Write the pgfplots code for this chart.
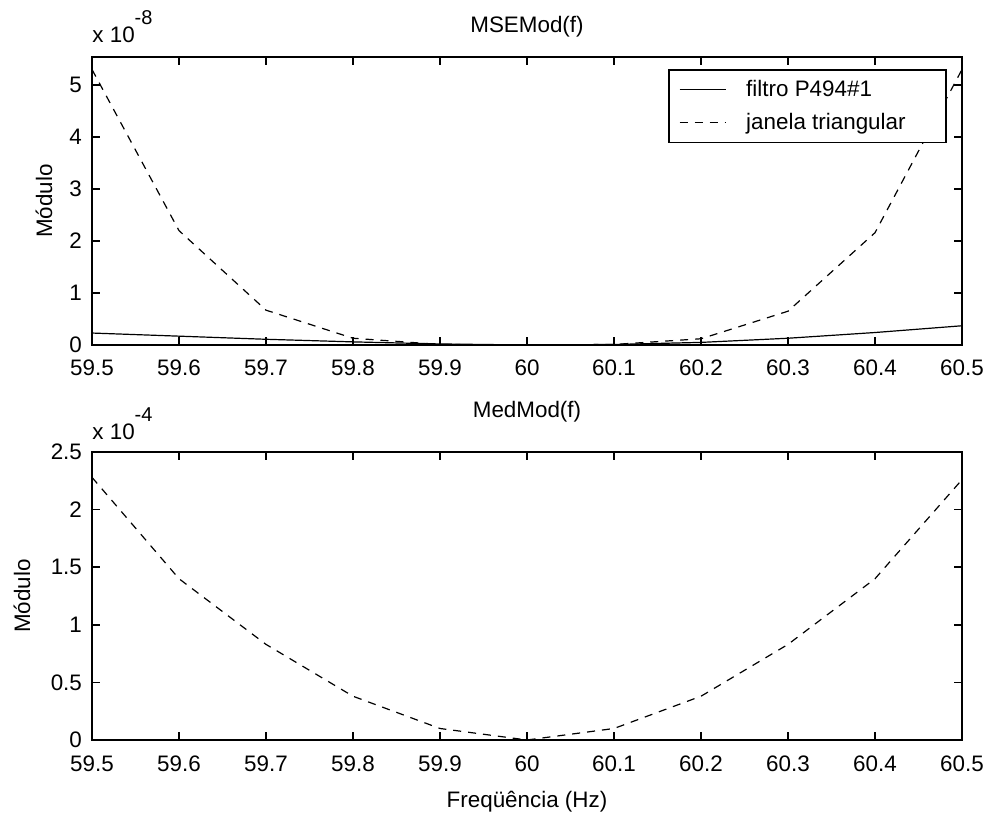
\documentclass[border=0pt]{standalone}
\usepackage{pgfplots}
\pgfplotsset{compat=1.18}
\usepackage{fontspec}
\setmainfont{Liberation Sans}
\newcommand{\mf}{\fontsize{11.2}{13}\selectfont}
\begin{document}
\begin{tikzpicture}[x=1pt,y=1pt]
\useasboundingbox (0,0) rectangle (494.5,407);
\pgfplotsset{
  mystyle/.style={
    scale only axis, width=435pt, height=144pt,
    xmin=59.5, xmax=60.5, ymin=0,
    xtick={59.5,59.6,59.7,59.8,59.9,60,60.1,60.2,60.3,60.4,60.5},
    xticklabels={59.5,59.6,59.7,59.8,59.9,60,60.1,60.2,60.3,60.4,60.5},
    tick align=inside, major tick length=4pt,
    tick style={black, line width=0.8pt},
    axis line style={line width=0.8pt},
    /pgf/number format/assume math mode=true,
    ticklabel style={font=\mf},
    xticklabel style={anchor=base, yshift=-15.5pt},
    yticklabel style={anchor=east, xshift=-1.5pt},
    scaled y ticks=false,
    yticklabel style={/pgf/number format/fixed},
    ylabel={Módulo},
    title style={font=\mf, at={(0.5,1)}, anchor=base},
  },
  mysolid/.style={black, solid, no marks, line width=0.6pt},
  mydash/.style={black, no marks, line width=0.6pt, dash pattern=on 4pt off 3.5pt},
}
% Top axis
\begin{axis}[mystyle, name=ax1, at={(46pt,234.5pt)}, anchor=south west,
  ymax=5.54, ytick={0,1,2,3,4,5},
  ylabel style={at={(axis description cs:-0.0552,0.5)}, anchor=center, font=\mf},
  title={MSEMod(f)}, title style={yshift=6pt},
  legend cell align=left,
  legend style={at={(0.9828,0.958)}, anchor=north east, font=\mf,
    draw=black, line width=0.8pt, inner xsep=5pt, inner ysep=3pt,
    row sep=3pt},
  legend image code/.code={\draw[#1, line width=0.6pt] (0pt,0pt) -- (23pt,0pt);},
]
\addplot[mysolid] coordinates {(59.5,0.23) (59.6,0.17) (59.7,0.11) (59.8,0.06) (59.9,0.02) (60.0,0.0) (60.1,0.01) (60.2,0.05) (60.3,0.13) (60.4,0.24) (60.5,0.37)};
\addlegendentry{\hspace*{8pt}filtro P494\#1}
\addplot[mydash] coordinates {(59.5,5.3) (59.6,2.2) (59.7,0.67) (59.8,0.13) (59.9,0.01) (60.0,0.0) (60.1,0.01) (60.2,0.12) (60.3,0.65) (60.4,2.16) (60.5,5.3)};
\addlegendentry{\makebox[101pt][l]{\hspace*{8pt}janela triangular}}
\end{axis}
\node[anchor=base west, inner sep=0pt, font=\mf] at ([yshift=7pt]ax1.north west) {x 10\raisebox{9pt}{\fontsize{10}{12}\selectfont -8}};
% Bottom axis
\begin{axis}[mystyle, name=ax2, at={(46pt,37pt)}, anchor=south west,
  ymax=2.5, ytick={0,0.5,1,1.5,2,2.5},
  yticklabels={0,0.5,1,1.5,2,2.5},
  ylabel style={at={(axis description cs:-0.0805,0.5)}, anchor=center, font=\mf},
  title={MedMod(f)}, title style={yshift=11.5pt},
  xlabel={Freqüência (Hz)},
  xlabel style={at={(axis description cs:0.5,0)}, anchor=base, yshift=-33.5pt, font=\mf},
]
\addplot[mysolid] coordinates {(59.5,0) (60.5,0)};
\addplot[mydash] coordinates {(59.5,2.28) (59.6,1.4) (59.7,0.83) (59.8,0.38) (59.9,0.1) (60.0,0.0) (60.1,0.1) (60.2,0.38) (60.3,0.83) (60.4,1.4) (60.5,2.26)};
\end{axis}
\node[anchor=base west, inner sep=0pt, font=\mf] at ([yshift=6.5pt]ax2.north west) {x 10\raisebox{9pt}{\fontsize{10}{12}\selectfont -4}};
\end{tikzpicture}
\end{document}
